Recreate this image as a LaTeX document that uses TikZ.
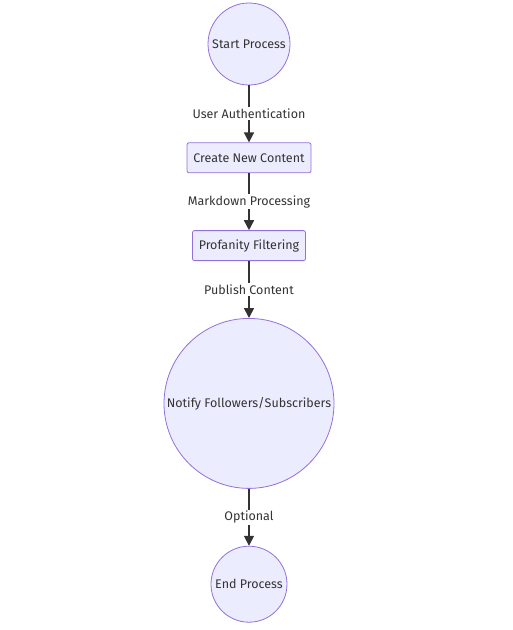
\documentclass[tikz,border=0pt]{standalone}
\usepackage{fontspec}
\setmainfont{Fira Sans}
\usetikzlibrary{shapes,arrows.meta,positioning,calc}
\definecolor{nodefill}{HTML}{ECECFF}
\definecolor{nodeline}{HTML}{9370DB}
\definecolor{ink}{HTML}{333333}
\tikzstyle{terminal} = [circle, draw=nodeline, fill=nodefill, text=ink, line width=0.8pt, inner sep=0pt]
\tikzstyle{process} = [rectangle, rounded corners=2pt, minimum height=30pt, text centered, draw=nodeline, fill=nodefill, text=ink, line width=0.8pt]
\tikzstyle{arrow} = [line width=1.6pt, draw=ink, -{Triangle[length=10pt,width=10pt]}]
\tikzstyle{edgelabel} = [fill=white, text=ink, inner sep=1.5pt, midway]

\begin{document}
\begin{tikzpicture}[node distance=57pt, font=\fontsize{12.5}{14}\selectfont]
        \useasboundingbox (0,0) rectangle (513pt,-630pt);
        % Blocos
        \node (start) [terminal, minimum size=82pt] at (249pt,-44pt) {Start Process};
        \node (create) [process, minimum width=124pt, below=of start] {Create New Content};
        \node (filter) [process, minimum width=113pt, below=of create] {Profanity Filtering};
        \node (notify) [terminal, minimum size=170pt, below=of filter] {Notify Followers/Subscribers};
        \node (stop) [terminal, minimum size=76pt, below=of notify] {End Process};

        % Linhas
        \draw [arrow] (start) -- node[edgelabel] {User Authentication} (create);
        \draw [arrow] (create) -- node[edgelabel] {Markdown Processing} (filter);
        \draw [arrow] (filter) -- node[edgelabel] {Publish Content} (notify);
        \draw [arrow] (notify) -- node[edgelabel] {Optional} (stop);
    \end{tikzpicture}
\end{document}
